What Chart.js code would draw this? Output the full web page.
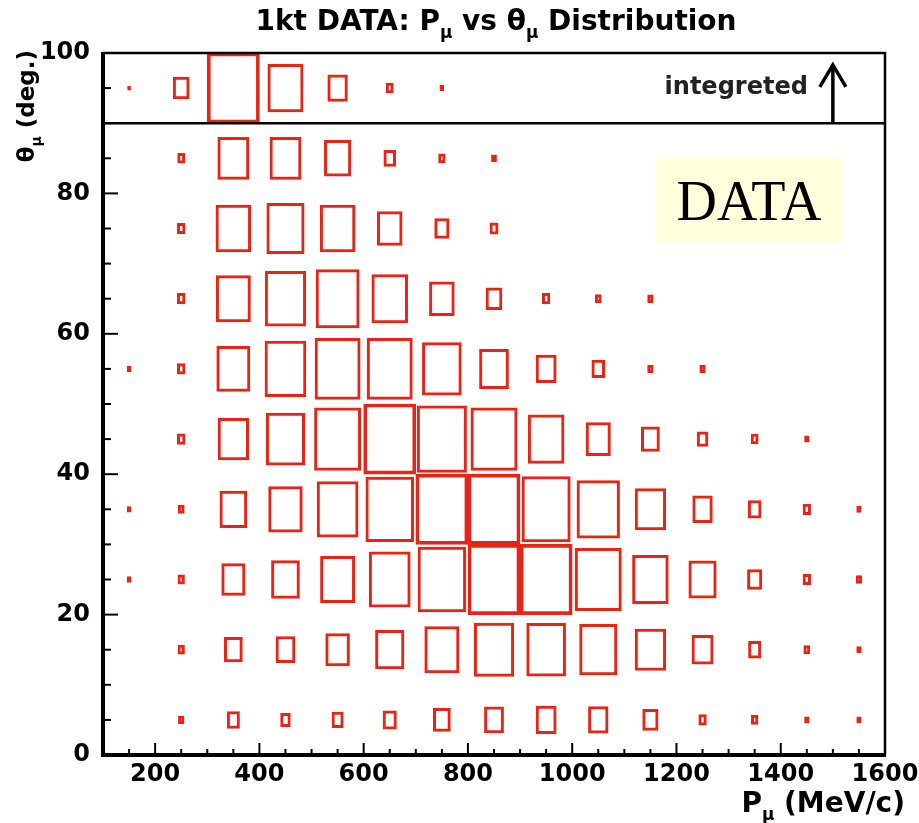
<!DOCTYPE html>
<html><head><meta charset="utf-8">
<script src="https://cdn.jsdelivr.net/npm/chart.js@4.4.0/dist/chart.umd.min.js"></script>
<style>html,body{margin:0;padding:0;background:#fff}canvas{display:block}</style>
</head><body>
<canvas id="c" width="919" height="823"></canvas>
<script>
// Momentum bin centres (MeV/c) and angle bin centres (deg)
const pBins = [150,250,350,450,550,650,750,850,950,1050,1150,1250,1350,1450,1550];
const thetaBins = [5,15,25,35,45,55,65,75,85];
const integratedTheta = 95;
// Relative box contents (% of max) for each angle row, per momentum bin
const theta5  = [null,12,25,20,23,27,34,38,40,39,31,16,14,10,10];
const theta15 = [null,14,36,38,47,56,67,77,76,73,60,42,25,13,10];
const theta25 = [9,14,46,55,67,80,93,100,100,90,70,54,29,16,12];
const theta35 = [9,13,53,66,80,93,100,100,94,83,60,39,26,16,10];
const theta45 = [null,16,60,75,90,100,96,90,70,48,36,22,15,10,null];
const theta55 = [9,16,65,80,88,88,76,57,40,26,12,12,null,null,null];
const theta65 = [null,16,67,79,84,70,49,32,16,13,12,null,null,null,null];
const theta75 = [null,16,68,73,68,49,29,17,null,null,null,null,null,null,null];
const theta85 = [null,15,61,61,52,24,14,11,null,null,null,null,null,null,null];
const integrated = [7,32,100,69,39,15,9,null,null,null,null,null,null,null,null];
// Tick labels
const xTickLabels = [200,400,600,800,1000,1200,1400,1600];
const yTickLabels = [0,20,40,60,80,100];

const rows = [theta5,theta15,theta25,theta35,theta45,theta55,theta65,theta75,theta85];
const BOX = 'rgb(232,36,22)';
const datasets = [];
function addRow(center, vals){
  vals.forEach((v,i)=>{
    if(v==null) return;
    const f = v/100;
    datasets.push({
      data:[{x:pBins[i], y:[center-5*f, center+5*f]}],
      barPercentage:f, categoryPercentage:1,
      backgroundColor:'rgba(0,0,0,0)', borderColor:BOX, borderWidth:3,
      borderSkipped:false, grouped:false
    });
  });
}
rows.forEach((r,k)=>addRow(thetaBins[k], r));
addRow(integratedTheta, integrated);

const FONT = '"DejaVu Sans", sans-serif';
function rich(ctx, parts, x, y, size, align){
  let w = 0;
  parts.forEach(p=>{ ctx.font = `bold ${p.sub?size*0.6:size}px ${FONT}`; p.w = ctx.measureText(p.t).width; w += p.w; });
  let cx = align==='right' ? x-w : align==='center' ? x-w/2 : x;
  parts.forEach(p=>{ ctx.font = `bold ${p.sub?size*0.6:size}px ${FONT}`; ctx.fillText(p.t, cx, y + (p.sub?size*0.3:0)); cx += p.w; });
}

const decor = {
  id:'decor',
  beforeDatasetsDraw(chart){
    const ctx = chart.ctx, xs = chart.scales.x, ys = chart.scales.y;
    ctx.save();
    const x0 = xs.getPixelForValue(1160), x1 = xs.getPixelForValue(1518);
    const y0 = ys.getPixelForValue(85), y1 = ys.getPixelForValue(73.1);
    ctx.fillStyle = '#ffffdc';
    ctx.fillRect(x0, y0, x1-x0, y1-y0);
    ctx.fillStyle = '#000';
    ctx.font = '56px "Liberation Serif", "Times New Roman", serif';
    ctx.textAlign = 'center'; ctx.textBaseline = 'alphabetic';
    ctx.fillText('DATA', (x0+x1)/2, y0 + (y1-y0)/2 + 20);
    ctx.restore();
  },
  afterDraw(chart){
    const ctx = chart.ctx, xs = chart.scales.x, ys = chart.scales.y, a = chart.chartArea;
    ctx.save();
    ctx.strokeStyle = '#000'; ctx.fillStyle = '#000';
    // ticks (inward)
    ctx.lineWidth = 2;
    for(let v=150; v<1600; v+=50){
      const px = xs.getPixelForValue(v);
      const len = (v%200===0) ? 12 : 6;
      ctx.beginPath(); ctx.moveTo(px, a.bottom); ctx.lineTo(px, a.bottom-len); ctx.stroke();
    }
    for(let v=5; v<100; v+=5){
      const py = ys.getPixelForValue(v);
      const len = (v%20===0) ? 15 : 8;
      ctx.beginPath(); ctx.moveTo(a.left, py); ctx.lineTo(a.left+len, py); ctx.stroke();
    }
    // frame
    ctx.lineWidth = 2.5;
    ctx.beginPath(); ctx.moveTo(a.left, a.top); ctx.lineTo(a.right, a.top); ctx.lineTo(a.right, a.bottom); ctx.stroke();
    ctx.lineWidth = 4;
    ctx.beginPath(); ctx.moveTo(a.left, a.top-1); ctx.lineTo(a.left, a.bottom); ctx.lineTo(a.right+1, a.bottom); ctx.stroke();
    // integrated separator
    const y90 = ys.getPixelForValue(90);
    ctx.lineWidth = 2.5;
    ctx.beginPath(); ctx.moveTo(a.left, y90); ctx.lineTo(a.right, y90); ctx.stroke();
    // arrow
    const ax = xs.getPixelForValue(1500);
    const ay = ys.getPixelForValue(98.3);
    ctx.lineWidth = 3.5;
    ctx.beginPath(); ctx.moveTo(ax, y90); ctx.lineTo(ax, ay); ctx.stroke();
    ctx.beginPath(); ctx.moveTo(ax-13, ay+22); ctx.lineTo(ax, ay); ctx.lineTo(ax+13, ay+22); ctx.stroke();
    // integrated label
    ctx.fillStyle = '#222';
    ctx.font = `bold 24px ${FONT}`;
    ctx.textAlign = 'right'; ctx.textBaseline = 'alphabetic';
    ctx.fillText('integreted', ax-25, ys.getPixelForValue(94.1));
    // titles
    ctx.fillStyle = '#000';
    ctx.textAlign = 'left';
    rich(ctx, [{t:'1kt DATA: P'},{t:'μ',sub:true},{t:' vs θ'},{t:'μ',sub:true},{t:' Distribution'}], 496, 30, 28, 'center');
    rich(ctx, [{t:'P'},{t:'μ',sub:true},{t:' (MeV/c)'}], 905, 812, 28, 'right');
    ctx.save();
    ctx.translate(34, 50); ctx.rotate(-Math.PI/2);
    rich(ctx, [{t:'θ'},{t:'μ',sub:true},{t:' (deg.)'}], 0, 0, 23, 'right');
    ctx.restore();
    ctx.restore();
  }
};

new Chart(document.getElementById('c'), {
  type:'bar',
  data:{datasets},
  plugins:[decor],
  options:{
    responsive:false, animation:false, devicePixelRatio:1,
    layout:{padding:{top:53, right:34, left:0, bottom:0}},
    plugins:{legend:{display:false}, tooltip:{enabled:false}, title:{display:false}},
    scales:{
      x:{type:'linear', min:100, max:1600, offset:false,
         grid:{display:false, drawTicks:false}, border:{display:false},
         ticks:{stepSize:100, autoSkip:false, maxRotation:0, padding:5, color:'#000',
                font:{family:'DejaVu Sans', weight:'bold', size:24},
                callback:(v)=> xTickLabels.includes(v) ? String(v) : ''},
         afterFit:(s)=>{ s.height = 68; s.paddingLeft = 0; s.paddingRight = 0; }},
      y:{type:'linear', min:0, max:100,
         grid:{display:false, drawTicks:false}, border:{display:false},
         ticks:{stepSize:20, padding:13, color:'#000',
                font:{family:'DejaVu Sans', weight:'bold', size:24},
                callback:(v)=> yTickLabels.includes(v) ? String(v) : ''},
         afterFit:(s)=>{ s.width = 103; s.paddingTop = 0; s.paddingBottom = 0; }}
    }
  }
});
</script>
</body></html>
